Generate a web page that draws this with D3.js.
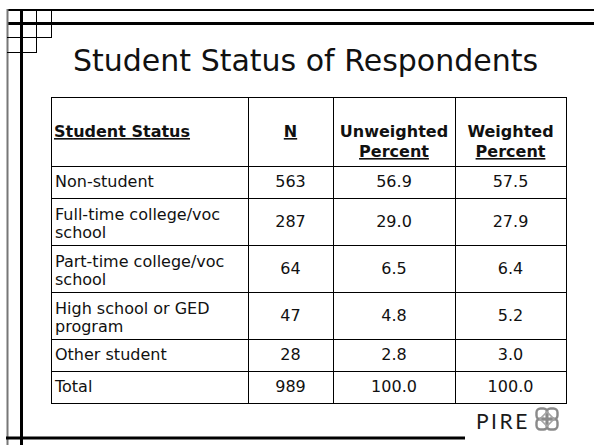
<!DOCTYPE html>
<html>
<head>
<meta charset="utf-8">
<script src="https://cdnjs.cloudflare.com/ajax/libs/d3/7.8.5/d3.min.js"></script>
<style>
  body { margin: 0; background: #fff; }
  svg { display: block; }
  text { font-family: "DejaVu Sans", Verdana, sans-serif; fill: #111; }
</style>
</head>
<body>
<svg width="594" height="445"></svg>
<script>
const title = 'Student Status of Respondents';
const columns = ['status', 'n', 'unweighted', 'weighted'];
const headers = [['Student Status'], ['N'], ['Unweighted', 'Percent'], ['Weighted', 'Percent']];
const statuses = ['Non-student', 'Full-time college/voc school', 'Part-time college/voc school',
  'High school or GED program', 'Other student', 'Total'];
const counts = [563, 287, 64, 47, 28, 989];
const unweighted = [56.9, 29.0, 6.5, 4.8, 2.8, 100.0];
const weighted = [57.5, 27.9, 6.4, 5.2, 3.0, 100.0];

const svg = d3.select('svg');

// slide frame: double rules top and left, little grid in the corner
const frame = svg.append('g').attr('stroke', '#000').attr('fill', 'none');
frame.append('line').attr('x1', 7).attr('x2', 594).attr('y1', 10).attr('y2', 10).attr('stroke-width', 2);
frame.append('line').attr('x1', 7).attr('x2', 594).attr('y1', 23.5).attr('y2', 23.5).attr('stroke-width', 3);
frame.append('line').attr('x1', 7.5).attr('x2', 7.5).attr('y1', 9).attr('y2', 445)
  .attr('stroke', '#777').attr('stroke-width', 2);
frame.append('line').attr('x1', 21.5).attr('x2', 21.5).attr('y1', 9).attr('y2', 445).attr('stroke-width', 3);
frame.append('line').attr('x1', 36.5).attr('x2', 36.5).attr('y1', 10).attr('y2', 53);
frame.append('line').attr('x1', 51.5).attr('x2', 51.5).attr('y1', 10).attr('y2', 38);
frame.append('line').attr('x1', 7).attr('x2', 52).attr('y1', 37.5).attr('y2', 37.5);
frame.append('line').attr('x1', 7).attr('x2', 37).attr('y1', 52.5).attr('y2', 52.5);
frame.append('line').attr('x1', 6).attr('x2', 465).attr('y1', 438).attr('y2', 438).attr('stroke-width', 3);

svg.append('text')
  .attr('x', 73).attr('y', 71)
  .style('font-size', '30px')
  .text(title);

// table geometry
const tableTop = 97;
const headerHeight = 69;
const lineRowHeight = 32;
const extraLineHeight = 15;
const bodySize = 16;

const x = d3.scaleOrdinal().domain(columns).range([51, 248, 333, 455]);
const xEnd = d3.scaleOrdinal().domain(columns).range([248, 333, 455, 566]);
const xMid = (c) => (x(c) + xEnd(c)) / 2;

const measure = svg.append('text').style('font-size', bodySize + 'px').attr('opacity', 0);
function wrap(str, maxWidth) {
  const lines = [];
  let cur = '';
  str.split(' ').forEach((w) => {
    const next = cur ? cur + ' ' + w : w;
    measure.text(next);
    if (cur && measure.node().getComputedTextLength() > maxWidth) {
      lines.push(cur);
      cur = w;
    } else {
      cur = next;
    }
  });
  lines.push(cur);
  return lines;
}

const rows = statuses.map((s, i) => ({
  lines: wrap(s, xEnd('status') - x('status') - 8),
  values: [d3.format('d')(counts[i]), d3.format('.1f')(unweighted[i]), d3.format('.1f')(weighted[i])]
}));
measure.remove();

const heights = rows.map((r) => lineRowHeight + (r.lines.length - 1) * extraLineHeight);
const tops = [0, ...d3.cumsum(heights)].map((v) => v + tableTop + headerHeight);
const y = d3.scaleOrdinal().domain(d3.range(rows.length)).range(tops);
const tableBottom = tops[tops.length - 1];

// header
const head = svg.append('g').style('font-weight', 'bold').style('font-size', '16px');
headers.forEach((lines, ci) => {
  const c = columns[ci];
  lines.forEach((line, li) => {
    const t = head.append('text')
      .attr('x', ci === 0 ? x(c) + 3 : xMid(c))
      .attr('y', tableTop + 40 + li * 20)
      .attr('text-anchor', ci === 0 ? 'start' : 'middle')
      .text(line);
    if (li === lines.length - 1) t.style('text-decoration', 'underline');
  });
});

// body
const body = svg.append('g').style('font-size', bodySize + 'px');
rows.forEach((r, i) => {
  const mid = y(i) + heights[i] / 2;
  const first = r.lines.length === 1 ? mid + 5 : mid - 2;
  body.append('text')
    .attr('x', x('status') + 4)
    .attr('y', first)
    .selectAll('tspan')
    .data(r.lines)
    .join('tspan')
    .attr('x', x('status') + 4)
    .attr('dy', (d, k) => (k === 0 ? 0 : 18))
    .text((d) => d);
  r.values.forEach((v, k) => {
    body.append('text')
      .attr('x', xMid(columns[k + 1]))
      .attr('y', mid + 5)
      .attr('text-anchor', 'middle')
      .text(v);
  });
});

// grid
const grid = svg.append('g').attr('stroke', '#000').attr('stroke-width', 1);
[tableTop, ...tops].forEach((yy) => {
  grid.append('line').attr('x1', x('status')).attr('x2', xEnd('weighted') + 1)
    .attr('y1', Math.round(yy) + 0.5).attr('y2', Math.round(yy) + 0.5);
});
[...columns.map(x), xEnd('weighted')].forEach((xx) => {
  grid.append('line').attr('x1', xx + 0.5).attr('x2', xx + 0.5)
    .attr('y1', tableTop).attr('y2', tableBottom + 1);
});

// PIRE logo
svg.append('text')
  .attr('x', 476).attr('y', 429)
  .style('font-family', 'Lato, "DejaVu Sans", sans-serif')
  .style('font-size', '21px')
  .style('letter-spacing', '2.5px')
  .style('fill', '#1a1a1a')
  .text('PIRE');

const knot = svg.append('g').attr('transform', 'translate(547,419)')
  .attr('fill', 'none').attr('stroke', '#8a8a8a').attr('stroke-width', 2.4);
[[-5, -5], [5, -5], [-5, 5], [5, 5]].forEach(([dx, dy]) => {
  knot.append('rect').attr('x', dx - 5.5).attr('y', dy - 5.5).attr('width', 11).attr('height', 11).attr('rx', 4);
});
knot.append('rect').attr('x', -5).attr('y', -5).attr('width', 10).attr('height', 10)
  .attr('transform', 'rotate(45)').attr('stroke', '#a5a5a5').attr('stroke-width', 1.6);
</script>
</body>
</html>
